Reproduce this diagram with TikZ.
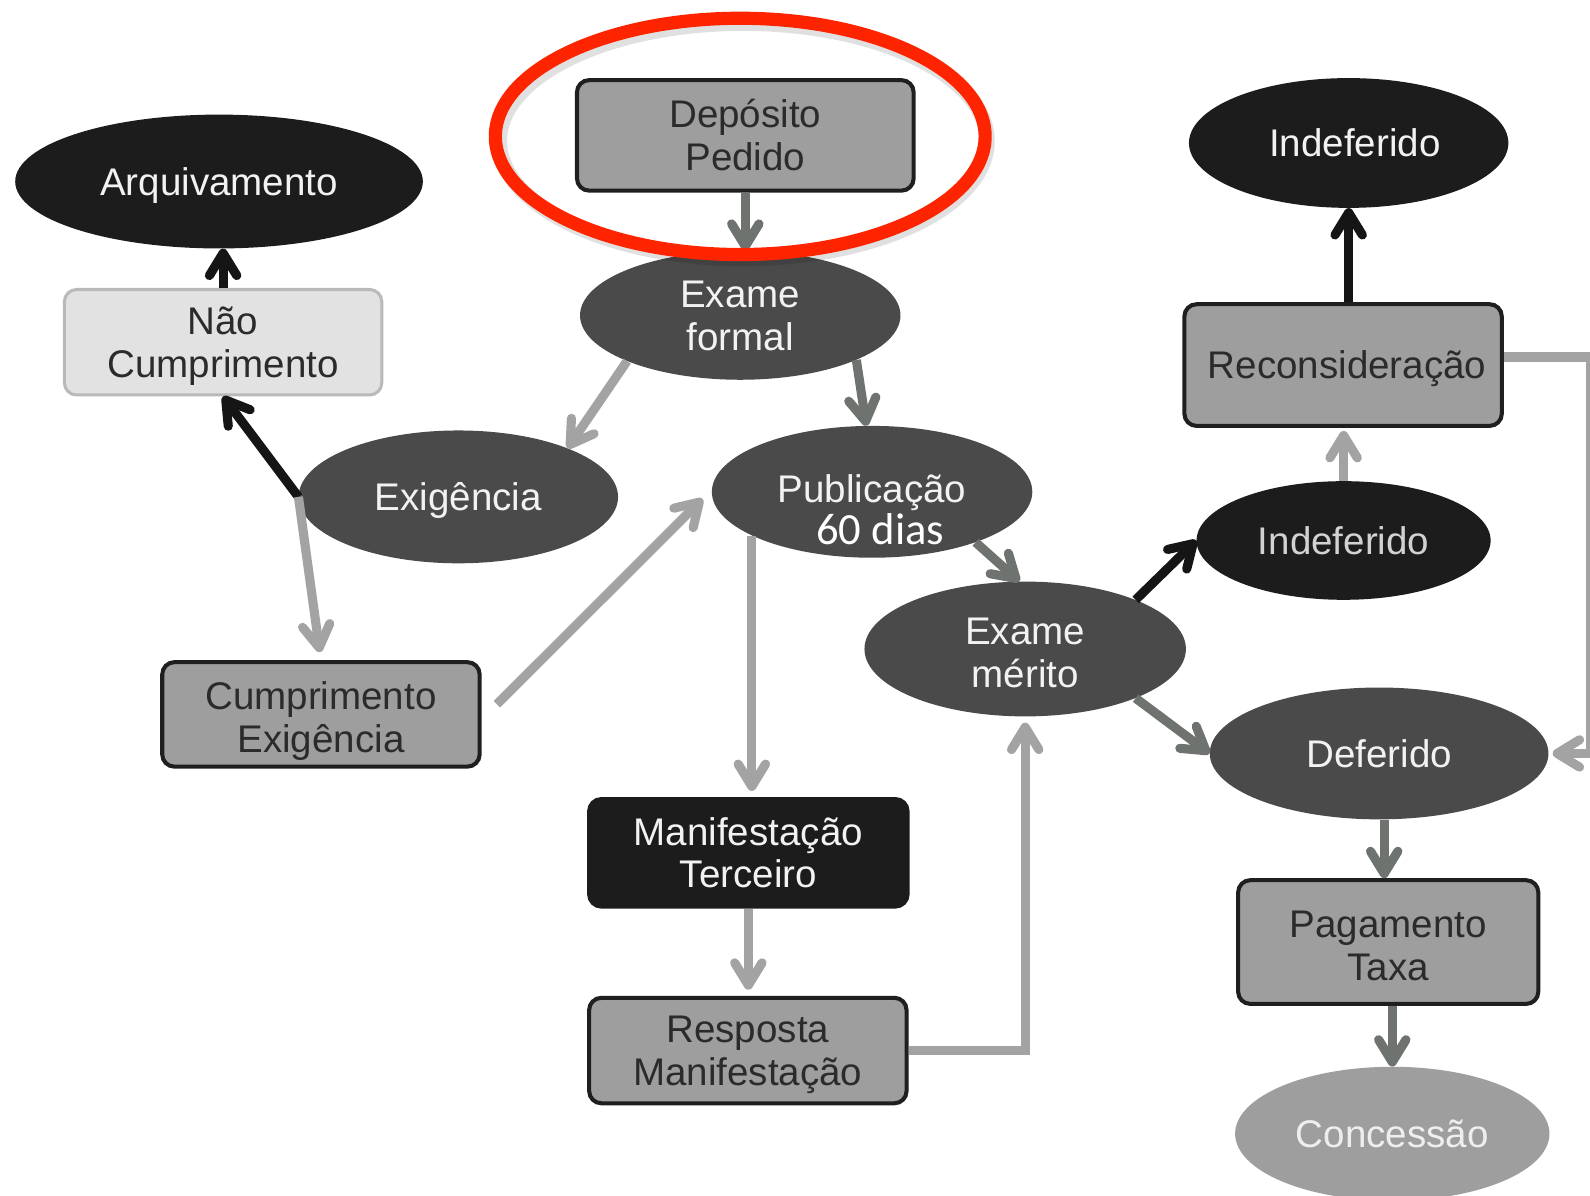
\documentclass[tikz,border=0pt]{standalone}
\usepackage{fontspec}
\setmainfont{Liberation Sans}
\newfontfamily\carlito{Carlito}
\usetikzlibrary{shapes.geometric,arrows.meta,calc}

\definecolor{cblack}{HTML}{1C1C1C}
\definecolor{cdark}{HTML}{4A4A4A}
\definecolor{cbox}{HTML}{9E9E9E}
\definecolor{cborder}{HTML}{1F1F1F}
\definecolor{clight}{HTML}{E2E2E2}
\definecolor{clightb}{HTML}{B9B9B9}
\definecolor{ctextw}{HTML}{F2F2F2}
\definecolor{ctextg}{HTML}{D2D2D2}
\definecolor{ctextl}{HTML}{EEEEEE}
\definecolor{ctextd}{HTML}{2B2B2B}
\definecolor{clite}{HTML}{A3A3A3}
\definecolor{cmid}{HTML}{6F736F}
\definecolor{cblk}{HTML}{151515}
\definecolor{cred}{HTML}{FF2400}

% struts for two-line labels
\newcommand\twolinestrut{\rule[-9.5pt]{0pt}{46pt}}
\newcommand\twolinelow{\rule[-9.5pt]{0pt}{52pt}}

\begin{document}
\begin{tikzpicture}[x=1pt,y=-1pt,
  every node/.style={inner sep=0pt, align=center, font=\fontsize{38}{42}\selectfont},
  oneline/.style={text height=27.4pt, text depth=0pt},
  oval/.style={ellipse, fill=cdark, text=ctextw},
  boxn/.style={rectangle, rounded corners=12pt, fill=cbox, draw=cborder, line width=4pt, text=ctextd},
  conn/.style={line width=9pt, -{Straight Barb[length=22pt,width=27pt,round]}},
  lite/.style={conn, draw=clite},
  mid/.style={conn, draw=cmid},
  blk/.style={conn, draw=cblk},
]
\useasboundingbox (0,0) rectangle (1568,1179);
\fill[white] (0,0) rectangle (1568,1179);
\clip (0,0) rectangle (1568,1179);

% nodes
\node[boxn, minimum width=332, minimum height=109] (dep) at (735,133.5) {\twolinestrut Depósito\\Pedido\rule[-9.5pt]{0pt}{9.5pt}};
\node[oval, minimum width=316, minimum height=127] (exf) at (730,311) {\twolinestrut Exame\\formal\rule[-9.5pt]{0pt}{9.5pt}};
\node[oval, oneline, fill=cblack, minimum width=402, minimum height=132] (arq) at (216,179) {Arquivamento};
\node[boxn, fill=clight, draw=clightb, line width=3pt, minimum width=313, minimum height=104] (nao) at (220,337.5) {\twolinestrut Não\\Cumprimento\rule[-9.5pt]{0pt}{9.5pt}};
\node[oval, oneline, minimum width=315, minimum height=131] (exi) at (452,490) {Exigência};
\node[oval, minimum width=316, minimum height=130] (pub) at (860,485) {};
\node[anchor=base, text=ctextw] (pubt1) at (860,496) {Publicação};
\node[anchor=base, text=white, font=\carlito\fontsize{44}{44}\selectfont] (pubt2) at (868,537) {60 dias};
\node[boxn, minimum width=313, minimum height=103] (cum) at (316.5,704.5) {\twolinelow Cumprimento\\Exigência\rule[-9.5pt]{0pt}{9.5pt}};
\node[boxn, fill=cblack, draw=cblack, text=ctextw, minimum width=314, minimum height=106] (man) at (738,841) {\twolinestrut Manifestação\\Terceiro\rule[-9.5pt]{0pt}{9.5pt}};
\node[boxn, minimum width=313, minimum height=104] (res) at (737.5,1036) {\twolinestrut Resposta\\Manifestação\rule[-9.5pt]{0pt}{9.5pt}};
\node[oval, minimum width=317, minimum height=130] (mer) at (1011,640) {\twolinelow Exame\\mérito\rule[-9.5pt]{0pt}{9.5pt}};
\node[oval, oneline, fill=cblack, text=ctextg, minimum width=290, minimum height=117] (ind2) at (1325,533) {Indeferido};
\node[boxn, oneline, minimum width=313, minimum height=120] (rec) at (1324.5,360) {\hspace*{8pt}Reconsideração};
\node[oval, oneline, fill=cblack, minimum width=315, minimum height=128] (ind1) at (1330,141) {\hspace*{12pt}Indeferido};
\node[oval, oneline, minimum width=334, minimum height=130] (def) at (1360,743) {Deferido};
\node[boxn, minimum width=296, minimum height=122] (pag) at (1369,929) {\twolinelow Pagamento\\Taxa\rule[-9.5pt]{0pt}{9.5pt}};
\node[oval, oneline, fill=cbox, text=ctextl, minimum width=310, minimum height=132] (con) at (1373,1118) {Concessão};

% connectors
\draw[mid] (dep.south) -- (dep.south |- exf.north);
\draw[blk] (nao.north) -- (nao.north |- arq.south);
\draw[blk] (exi.west) -- (nao.south);
\draw[lite, shorten >=8pt] (exi.west) -- (cum.north);
\draw[lite] (exf.202) -- (exi.24);
\draw[mid] (exf.339) -- (pub.95);
\draw[lite] ($(cum.east)+(15,-10)$) -- ($(pub.west)+(-9,7)$);
\draw[lite, shorten >=6pt] (pub.200) -- (pub.200 |- man.north);
\draw[lite, shorten >=6pt] (man.south) -- (man.south |- res.north);
\draw[lite, shorten >=6pt] (res.east) -| (mer.south);
\draw[mid] (pub.334) -- (mer.95);
\draw[blk] (mer.24) -- (ind2.west);
\draw[lite, shorten >=3pt] (ind2.north) -- (ind2.north |- rec.south);
\draw[blk] (ind1.south |- rec.north) -- (ind1.south);
\draw[lite, shorten >=4pt] ([yshift=8pt]rec.east) -- ++(86,0) |- (def.east);
\draw[mid] (mer.336) -- (def.west);
\draw[mid] ([xshift=5pt]def.south) -- ([xshift=-4pt]pag.north);
\draw[mid] ([xshift=4pt]pag.south) -- (con.north);

% highlight
\node[ellipse, draw=black, draw opacity=0.12, line width=15pt, minimum width=481, minimum height=232] (hlshadow) at (733,139) {};
\node[ellipse, draw=cred, line width=13pt, minimum width=483, minimum height=233] (hl) at (730,134.5) {};
\end{tikzpicture}
\end{document}
